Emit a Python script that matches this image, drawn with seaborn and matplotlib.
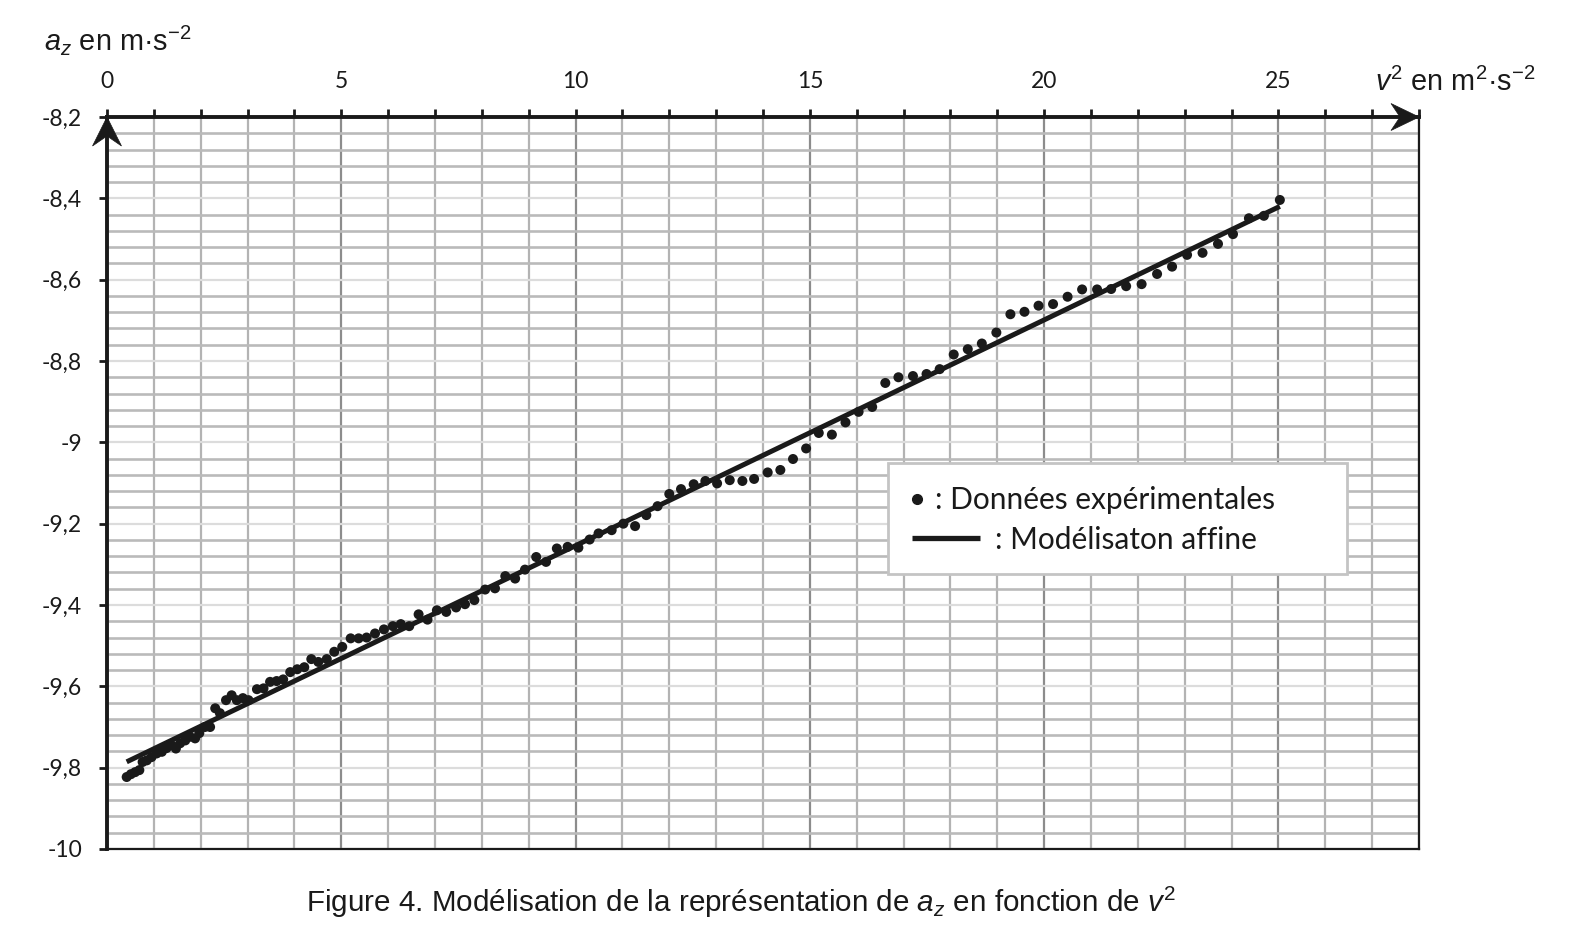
import matplotlib
matplotlib.use("Agg")
import numpy as np
import pandas as pd
import matplotlib.pyplot as plt
import seaborn as sns
from matplotlib.patches import Polygon, Rectangle
from matplotlib.lines import Line2D
from matplotlib.transforms import ScaledTranslation
from matplotlib.ticker import FixedLocator, MultipleLocator, NullFormatter

# ---------------- data ----------------
v2 = [0.42, 0.51, 0.60, 0.69, 0.76, 0.85, 0.95, 1.06, 1.17, 1.27,
      1.38, 1.47, 1.56, 1.67, 1.77, 1.88, 1.97, 2.09, 2.20, 2.31,
      2.41, 2.54, 2.66, 2.77, 2.90, 3.02, 3.20, 3.34, 3.48, 3.62,
      3.76, 3.91, 4.06, 4.21, 4.36, 4.51, 4.69, 4.85, 5.02, 5.20,
      5.37, 5.54, 5.72, 5.91, 6.10, 6.27, 6.45, 6.65, 6.84, 7.04,
      7.24, 7.45, 7.64, 7.84, 8.07, 8.28, 8.50, 8.71, 8.92, 9.16,
      9.37, 9.60, 9.83, 10.06, 10.30, 10.49, 10.77, 11.02, 11.27, 11.51,
      11.75, 12.00, 12.25, 12.52, 12.77, 13.02, 13.29, 13.56, 13.81, 14.10,
      14.37, 14.64, 14.92, 15.19, 15.47, 15.76, 16.04, 16.33, 16.61, 16.89,
      17.20, 17.49, 17.77, 18.07, 18.37, 18.67, 18.98, 19.28, 19.58, 19.88,
      20.19, 20.50, 20.81, 21.13, 21.43, 21.75, 22.08, 22.41, 22.73, 23.05,
      23.38, 23.71, 24.03, 24.37, 24.69, 25.03]
az = [-9.823, -9.816, -9.811, -9.806, -9.786, -9.782, -9.774, -9.765, -9.761, -9.752,
      -9.745, -9.753, -9.740, -9.733, -9.724, -9.728, -9.715, -9.700, -9.700, -9.654,
      -9.666, -9.634, -9.622, -9.634, -9.629, -9.634, -9.607, -9.605, -9.589, -9.587,
      -9.583, -9.565, -9.558, -9.553, -9.533, -9.540, -9.533, -9.515, -9.503, -9.482,
      -9.482, -9.480, -9.470, -9.460, -9.452, -9.447, -9.452, -9.423, -9.436, -9.413,
      -9.417, -9.406, -9.398, -9.388, -9.362, -9.359, -9.329, -9.335, -9.313, -9.282,
      -9.294, -9.261, -9.257, -9.259, -9.239, -9.224, -9.216, -9.200, -9.206, -9.179,
      -9.157, -9.127, -9.115, -9.103, -9.095, -9.101, -9.093, -9.095, -9.090, -9.074,
      -9.068, -9.041, -9.015, -8.977, -8.981, -8.951, -8.925, -8.913, -8.854, -8.840,
      -8.837, -8.832, -8.820, -8.784, -8.771, -8.757, -8.730, -8.685, -8.679, -8.664,
      -8.660, -8.642, -8.624, -8.624, -8.623, -8.616, -8.611, -8.586, -8.568, -8.539,
      -8.534, -8.512, -8.488, -8.449, -8.443, -8.404]

fit_slope = 0.0555
fit_intercept = -9.809

x_limits = [0, 28]
y_limits = [-10.0, -8.2]
x_label_ticks = [0, 5, 10, 15, 20, 25]
x_label_texts = ["0", "5", "10", "15", "20", "25"]
y_ticks = [-8.2, -8.4, -8.6, -8.8, -9.0, -9.2, -9.4, -9.6, -9.8, -10.0]
y_tick_labels = ["-8,2", "-8,4", "-8,6", "-8,8", "-9", "-9,2", "-9,4", "-9,6", "-9,8", "-10"]
legend_labels = [": Données expérimentales", ": Modélisaton affine"]
ylabel_text = r"$a_z$ en m·$\mathrm{s}^{-2}$"
xlabel_text = r"$v^2$ en $\mathrm{m}^2$·$\mathrm{s}^{-2}$"
caption_text = r"Figure 4. Modélisation de la représentation de $a_z$ en fonction de $v^2$"

# ---------------- style ----------------
sns.set_style("white")
plt.rcParams["font.family"] = ["Lato", "DejaVu Sans"]
plt.rcParams["mathtext.fontset"] = "custom"
plt.rcParams["mathtext.rm"] = "Liberation Sans"
plt.rcParams["mathtext.it"] = "Liberation Sans:italic"
plt.rcParams["mathtext.bf"] = "Liberation Sans:bold"

ink = "#1a1a1a"
leg_fs = 21.5

fig = plt.figure(figsize=(15.75, 9.36), dpi=100)
ax = fig.add_axes([0.06794, 0.09295, 0.83302, 0.78205])

df = pd.DataFrame({"v2": v2, "az": az})
fit_df = pd.DataFrame({"v2": [min(v2), max(v2)]})
fit_df["az"] = fit_intercept + fit_slope * fit_df["v2"]

sns.scatterplot(data=df, x="v2", y="az", ax=ax, s=52, color=ink,
                edgecolor="none", zorder=3)
sns.lineplot(data=fit_df, x="v2", y="az", ax=ax, color=ink, lw=3.6,
             zorder=4, solid_capstyle="butt")

ax.set_xlim(*x_limits)
ax.set_ylim(*y_limits)
ax.set_xlabel("")
ax.set_ylabel("")

# ticks
ax.xaxis.tick_top()
ax.xaxis.set_major_locator(FixedLocator(x_label_ticks))
ax.set_xticklabels(x_label_texts)
ax.xaxis.set_minor_locator(MultipleLocator(1))
ax.xaxis.set_minor_formatter(NullFormatter())
ax.set_yticks(y_ticks)
ax.set_yticklabels(y_tick_labels)
ax.yaxis.set_minor_locator(FixedLocator([-8.2 - 0.04 * i for i in range(46)]))
ax.yaxis.set_minor_formatter(NullFormatter())

ax.tick_params(axis="x", which="both", top=True, bottom=False, labeltop=True,
               labelbottom=False, direction="out", length=6, width=2,
               color=ink, pad=12, labelsize=16.5, labelcolor=ink)
ax.tick_params(axis="y", which="major", left=True, direction="out", length=6,
               width=2, color=ink, pad=12, labelsize=16.5, labelcolor=ink)
ax.tick_params(axis="y", which="minor", left=False, length=0)

# grid
ax.set_axisbelow(True)
ax.xaxis.grid(True, which="major", color="#8c8c8c", lw=1.6)
ax.xaxis.grid(True, which="minor", color="#b3b3b3", lw=1.6)
ax.yaxis.grid(True, which="major", color="#dcdcdc", lw=1.6)
ax.yaxis.grid(True, which="minor", color="#bababa", lw=1.9)

# spines
for side in ["left", "top"]:
    ax.spines[side].set_visible(True)
    ax.spines[side].set_linewidth(2.8)
    ax.spines[side].set_color(ink)
for side in ["right", "bottom"]:
    ax.spines[side].set_visible(True)
    ax.spines[side].set_linewidth(1.6)
    ax.spines[side].set_color(ink)

# arrow heads on the axes
up_tip = fig.dpi_scale_trans + ScaledTranslation(0, 1, ax.transAxes)
ax.add_artist(Polygon([(0, 0), (-0.145, -0.29), (0, -0.19), (0.145, -0.29)],
                      closed=True, transform=up_tip, facecolor=ink,
                      edgecolor=ink, lw=0.5, clip_on=False, zorder=10))
right_tip = fig.dpi_scale_trans + ScaledTranslation(1, 1, ax.transAxes)
ax.add_artist(Polygon([(0, 0), (-0.28, 0.135), (-0.19, 0), (-0.28, -0.135)],
                      closed=True, transform=right_tip, facecolor=ink,
                      edgecolor=ink, lw=0.5, clip_on=False, zorder=10))

# legend box
ax.add_patch(Rectangle((0.5953, 0.3757), 0.3498, 0.1516, transform=ax.transAxes,
                       facecolor="white", edgecolor="#c4c4c4", lw=2,
                       zorder=6, clip_on=False))
leg1 = ax.legend(handles=[Line2D([], [], ls="none", marker="o", ms=7,
                                 color=ink)],
                 labels=[legend_labels[0]], loc="center left",
                 bbox_to_anchor=((905.6 - 107) / 1312, 0.4768), frameon=False,
                 handlelength=0.78, handletextpad=0.2, borderpad=0,
                 borderaxespad=0, fontsize=leg_fs, labelcolor=ink)
leg1.set_zorder(7)
ax.add_artist(leg1)
leg2 = ax.legend(handles=[Line2D([], [], color=ink, lw=3.8,
                                 solid_capstyle="butt")],
                 labels=[legend_labels[1]], loc="center left",
                 bbox_to_anchor=((912 - 107) / 1312, 0.4222), frameon=False,
                 handlelength=2.28, handletextpad=0.5, borderpad=0,
                 borderaxespad=0, fontsize=leg_fs, labelcolor=ink)
leg2.set_zorder(7)

# axis titles and caption
fig.text(0.0279, 0.9466, ylabel_text, ha="left", va="baseline", fontsize=20.8,
         family="Liberation Sans", color=ink)
fig.text(0.873, 0.9031, xlabel_text, ha="left", va="baseline", fontsize=20.8,
         family="Liberation Sans", color=ink)
fig.text(0.4705, 0.0256, caption_text, ha="center", va="baseline",
         fontsize=21.3, family="Liberation Sans", color=ink)

fig.savefig("out.png", dpi=100)
